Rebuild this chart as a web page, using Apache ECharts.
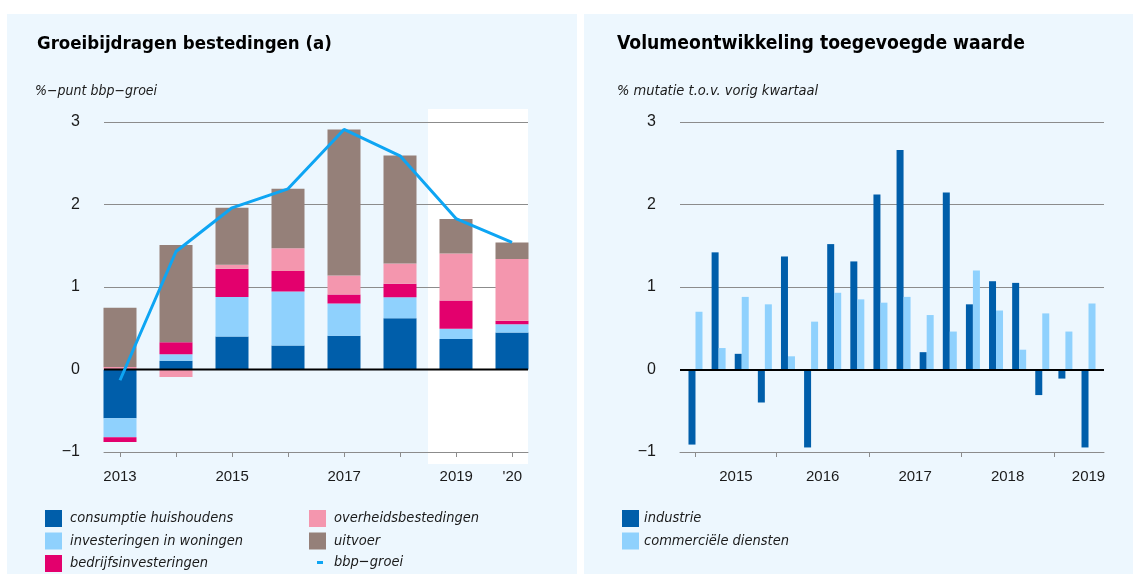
<!DOCTYPE html>
<html>
<head>
<meta charset="utf-8">
<script src="https://cdn.jsdelivr.net/npm/echarts@6/dist/echarts.min.js"></script>
<style>
html,body{margin:0;padding:0;background:#fff;}
#main{width:1137px;height:574px;}
</style>
</head>
<body>
<div id="main"></div>
<script>
// ---- Left chart data ----
const years = ['2013', '2014', '2015', '2016', '2017', '2018', '2019', '2020'];
const labelYears = [2013, 2015, 2017, 2019, 2020];
const consumptie = [-0.59, 0.105, 0.40, 0.29, 0.41, 0.62, 0.37, 0.45];
const woningen   = [-0.23, 0.08, 0.48, 0.655, 0.39, 0.255, 0.125, 0.10];
const bedrijfs   = [-0.06, 0.145, 0.34, 0.25, 0.11, 0.165, 0.34, 0.04];
const overheid   = [0.03, -0.09, 0.05, 0.275, 0.23, 0.245, 0.57, 0.75];
const uitvoer    = [0.72, 1.18, 0.69, 0.72, 1.77, 1.31, 0.42, 0.20];
const bbpGroei   = [-0.13, 1.43, 1.96, 2.19, 2.91, 2.59, 1.83, 1.54];
const forecastYears = ['2019', '2020'];

// ---- Right chart data ----
const quarters = ['2015 K1','2015 K2','2015 K3','2015 K4','2016 K1','2016 K2','2016 K3','2016 K4',
  '2017 K1','2017 K2','2017 K3','2017 K4','2018 K1','2018 K2','2018 K3','2018 K4','2019 K1','2019 K2'];
const industrie = [-0.91, 1.42, 0.19, -0.40, 1.37, -0.945, 1.52, 1.31, 2.12, 2.66, 0.21, 2.145, 0.79, 1.07, 1.05, -0.31, -0.11, -0.945];
const diensten  = [0.70, 0.26, 0.88, 0.79, 0.16, 0.58, 0.93, 0.85, 0.81, 0.88, 0.66, 0.46, 1.20, 0.715, 0.24, 0.68, 0.46, 0.80];
const yearTickLabels = ['2015', '2016', '2017', '2018', '2019'];
const yearTickPos = [1.75, 5.5, 9.5, 13.5, 17];
const yearBoundaryTicks = [0, 3.5, 7.5, 11.5, 15.5];

const C = {
  cons: '#005eaa', won: '#8fd1fd', bed: '#e3006d', ovh: '#f496ae', uit: '#958079',
  line: '#0ea5f3', grid: '#8c8c8c', panel: '#edf7fe', text: '#1a1a1a'
};
const narrow = "'DejaVu Sans Condensed', 'Liberation Sans Narrow', Lato, sans-serif";
const base = "'Liberation Sans', Arial, sans-serif";

const chart = echarts.init(document.getElementById('main'), null, {renderer: 'canvas'});

function pairs(xs, ys) { return ys.map((v, i) => [xs[i], v]); }
const idx = quarters.map((q, i) => i);
const yearNums = years.map(Number);
const minusFmt = v => String(v).replace('-', '\u2212');
const LX_MIN = 2012.715, LX_MAX = 2020.28;

const yAxisCommon = {
  type: 'value', min: -1, max: 3, interval: 1,
  axisLine: {show: false}, axisTick: {show: false},
  splitLine: {show: true, lineStyle: {color: C.grid, width: 1}},
  axisLabel: {color: C.text, fontSize: 16, fontFamily: base, margin: 24, formatter: minusFmt}
};

const zeroLine = {
  silent: true, symbol: 'none', label: {show: false},
  lineStyle: {color: '#000', width: 2, type: 'solid'},
  data: [{yAxis: 0}]
};

const legendText = {fontSize: 14.5, fontStyle: 'italic', fontFamily: narrow, color: C.text};

function barSeries(name, data, color) {
  return {
    name, type: 'bar', xAxisIndex: 0, yAxisIndex: 0, stack: 'tot', barWidth: 33,
    data: data, itemStyle: {color}, emphasis: {disabled: true}
  };
}
const sq = names => names.map(n => ({name: n, icon: 'rect'}));

const option = {
  animation: false,
  backgroundColor: '#ffffff',
  graphic: [
    {type: 'rect', z: -100, shape: {x: 7, y: 14, width: 570, height: 560}, style: {fill: C.panel}},
    {type: 'rect', z: -100, shape: {x: 584, y: 14, width: 549, height: 560}, style: {fill: C.panel}}
  ],
  title: [
    {text: 'Groeibijdragen bestedingen (a)', left: 37, top: 35, padding: 0,
     textStyle: {fontSize: 18.5, fontWeight: 'bold', fontFamily: narrow, color: '#000'}},
    {text: '%\u2212punt bbp\u2212groei', left: 35, top: 84, padding: 0,
     textStyle: {fontSize: 14, fontStyle: 'italic', fontWeight: 'normal', fontFamily: narrow, color: C.text}},
    {text: 'Volumeontwikkeling toegevoegde waarde', left: 617, top: 35, padding: 0,
     textStyle: {fontSize: 19.2, fontWeight: 'bold', fontFamily: narrow, color: '#000'}},
    {text: '% mutatie t.o.v. vorig kwartaal', left: 617, top: 84, padding: 0,
     textStyle: {fontSize: 14.5, fontStyle: 'italic', fontWeight: 'normal', fontFamily: narrow, color: C.text}}
  ],
  legend: [
    {orient: 'vertical', left: 45, top: 510, padding: 0, itemWidth: 17, itemHeight: 17, itemGap: 5.5,
     selectedMode: false, textStyle: Object.assign({padding: [0, 0, 0, 3]}, legendText),
     data: sq(['consumptie huishoudens', 'investeringen in woningen', 'bedrijfsinvesteringen'])},
    {orient: 'vertical', left: 309, top: 510, padding: 0, itemWidth: 17, itemHeight: 17, itemGap: 5.5,
     selectedMode: false, textStyle: Object.assign({padding: [0, 0, 0, 3]}, legendText),
     data: sq(['overheidsbestedingen', 'uitvoer'])},
    {orient: 'vertical', left: 317, top: 555, padding: 0, itemWidth: 6, itemHeight: 3, itemGap: 5,
     selectedMode: false, textStyle: Object.assign({padding: [0, 0, 0, 6]}, legendText),
     data: [{name: 'bbp\u2212groei', icon: 'rect'}]},
    {orient: 'vertical', left: 622, top: 510, padding: 0, itemWidth: 17, itemHeight: 17, itemGap: 5.5,
     selectedMode: false, textStyle: legendText,
     data: sq(['industrie', 'commerci\u00eble diensten'])}
  ],
  grid: [
    {left: 92, top: 122, width: 448, height: 330},
    {left: 680, top: 122, width: 424, height: 330},
    {left: 104, top: 122, width: 424, height: 330}
  ],
  xAxis: [
    {gridIndex: 0, type: 'category', data: years, boundaryGap: true, show: false},
    {gridIndex: 1, type: 'value', min: -0.67, max: 17.67,
     splitLine: {show: false},
     axisLine: {show: true, onZero: false, lineStyle: {color: C.grid, width: 1}},
     axisTick: {show: true, customValues: yearBoundaryTicks, length: 5, lineStyle: {color: C.grid}},
     axisLabel: {show: true, customValues: yearTickPos, color: C.text, fontSize: 15, fontFamily: base, margin: 17,
       formatter: v => yearTickLabels[yearTickPos.indexOf(v)] || ''}},
    {gridIndex: 2, type: 'value', min: LX_MIN, max: LX_MAX,
     splitLine: {show: false},
     axisLine: {show: true, onZero: false, lineStyle: {color: C.grid, width: 1}},
     axisTick: {show: true, customValues: yearNums, length: 5, lineStyle: {color: C.grid, width: 1}},
     axisLabel: {show: true, customValues: labelYears, color: C.text, fontSize: 15, fontFamily: base, margin: 17,
       formatter: v => (v === 2020 ? "'20" : String(v))}}
  ],
  yAxis: [
    {gridIndex: 0, type: 'value', min: -1, max: 3, interval: 1, show: false},
    Object.assign({gridIndex: 1}, yAxisCommon),
    Object.assign({gridIndex: 2}, yAxisCommon)
  ],
  series: [
    barSeries('consumptie huishoudens', consumptie, C.cons),
    barSeries('investeringen in woningen', woningen, C.won),
    barSeries('bedrijfsinvesteringen', bedrijfs, C.bed),
    barSeries('overheidsbestedingen', overheid, C.ovh),
    barSeries('uitvoer', uitvoer, C.uit),
    {name: 'nul', type: 'line', xAxisIndex: 2, yAxisIndex: 2, z: 3, silent: true,
     data: [[LX_MIN, 0], [LX_MAX, 0]], symbol: 'none', lineStyle: {color: '#000', width: 2}, emphasis: {disabled: true}},
    {name: 'bbp\u2212groei', type: 'line', xAxisIndex: 0, yAxisIndex: 0, z: 5,
     data: bbpGroei, symbol: 'none', showSymbol: false,
     lineStyle: {color: C.line, width: 3}, itemStyle: {color: C.line}, emphasis: {disabled: true}},
    {name: 'industrie', type: 'bar', xAxisIndex: 1, yAxisIndex: 1, barWidth: 7, barGap: '0%',
     data: pairs(idx, industrie), itemStyle: {color: C.cons}, emphasis: {disabled: true}},
    {name: 'commerci\u00eble diensten', type: 'bar', xAxisIndex: 1, yAxisIndex: 1, barWidth: 7, barGap: '0%',
     data: pairs(idx, diensten), itemStyle: {color: C.won}, emphasis: {disabled: true},
     markLine: zeroLine}
  ]
};

chart.setOption(option);

// white forecast background box, positioned through the axis scales
const xA = chart.convertToPixel({xAxisIndex: 0}, years[years.indexOf(forecastYears[0]) - 1]);
const xB = chart.convertToPixel({xAxisIndex: 0}, forecastYears[0]);
const xStart = (xA + xB) / 2;
const xEnd = chart.convertToPixel({xAxisIndex: 2}, LX_MAX);
const yTop = chart.convertToPixel({yAxisIndex: 2}, 3) - 13;
const yBot = chart.convertToPixel({yAxisIndex: 2}, -1) + 12;
option.graphic.push({type: 'rect', z: -50, shape: {x: xStart, y: yTop, width: xEnd - xStart, height: yBot - yTop},
  style: {fill: '#ffffff'}});
chart.setOption({graphic: option.graphic});
</script>
</body>
</html>
